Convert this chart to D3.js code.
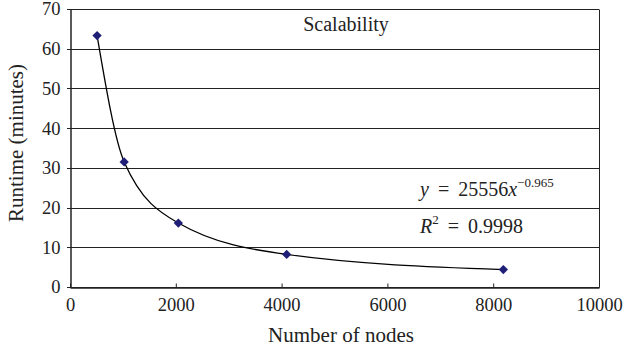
<!DOCTYPE html>
<html>
<head>
<meta charset="utf-8">
<script src="https://cdn.jsdelivr.net/npm/d3@7"></script>
<style>
  body { margin: 0; background: #fff; }
  text { font-family: "Liberation Serif", "DejaVu Serif", serif; fill: #222; }
</style>
</head>
<body>
<div id="chart"></div>
<script>
// data
const nodes = [512, 1024, 2048, 4096, 8192];
const runtime = [63.3, 31.5, 16.1, 8.2, 4.4];
const xTicks = [0, 2000, 4000, 6000, 8000, 10000];
const yTicks = [0, 10, 20, 30, 40, 50, 60, 70];
const chartTitle = "Scalability";
const eqText = { coef: "25556", exp: "\u22120.965", r2: "0.9998" };

const width = 625, height = 351;
const margin = { left: 70, right: 26, top: 9, bottom: 64 };

const svg = d3.select("#chart")
  .append("svg")
  .attr("width", width)
  .attr("height", height);

const xScale = d3.scaleLinear()
  .domain([0, 10000])
  .range([margin.left, width - margin.right]);

const yScale = d3.scaleLinear()
  .domain([0, 70])
  .range([height - margin.bottom, margin.top]);

// horizontal gridlines
svg.append("g")
  .selectAll("line")
  .data(yTicks)
  .enter()
  .append("line")
  .attr("x1", xScale(0) - 3)
  .attr("x2", xScale(10000))
  .attr("y1", d => Math.round(yScale(d)) + 0.5)
  .attr("y2", d => Math.round(yScale(d)) + 0.5)
  .attr("stroke", "#222")
  .attr("stroke-width", 1);

// right border
svg.append("line")
  .attr("x1", Math.round(xScale(10000)) + 0.5)
  .attr("x2", Math.round(xScale(10000)) + 0.5)
  .attr("y1", Math.round(yScale(70)) + 0.5)
  .attr("y2", Math.round(yScale(0)) + 0.5)
  .attr("stroke", "#222");

// x axis, ticks pointing up
const xAxis = d3.axisBottom(xScale)
  .tickValues(xTicks)
  .tickSizeInner(-4)
  .tickSizeOuter(0)
  .tickPadding(10)
  .tickFormat(d3.format("d"));

const gx = svg.append("g")
  .attr("transform", "translate(0," + (Math.round(yScale(0)) + 0.5) + ")")
  .call(xAxis);
gx.select(".domain").attr("stroke", "#222").attr("stroke-width", 1.5);
gx.selectAll(".tick line").attr("stroke", "#222");
gx.selectAll("text")
  .style("font-size", "18.5px")
  .style("font-family", "Liberation Serif")
  .attr("fill", "#222");

// y axis
const yAxis = d3.axisLeft(yScale)
  .tickValues(yTicks)
  .tickSizeInner(0)
  .tickSizeOuter(0)
  .tickPadding(10);

const gy = svg.append("g")
  .attr("transform", "translate(" + (Math.round(xScale(0)) + 0.5) + ",0)")
  .call(yAxis);
gy.select(".domain").attr("stroke", "#222").attr("stroke-width", 1.5);
gy.selectAll("text")
  .style("font-size", "18.5px")
  .style("font-family", "Liberation Serif")
  .attr("fill", "#222");

// axis titles
svg.append("text")
  .attr("x", 341)
  .attr("y", 342)
  .attr("text-anchor", "middle")
  .style("font-size", "21px")
  .text("Number of nodes");

svg.append("text")
  .attr("transform", "translate(23,143) rotate(-90)")
  .attr("text-anchor", "middle")
  .style("font-size", "21px")
  .text("Runtime (minutes)");

// chart title inside plot
svg.append("text")
  .attr("x", 346)
  .attr("y", 31)
  .attr("text-anchor", "middle")
  .style("font-size", "20px")
  .text(chartTitle);

// trend line drawn through the points
const points = nodes.map((n, i) => ({ x: n, y: runtime[i] }));
const line = d3.line()
  .x(d => xScale(d.x))
  .y(d => yScale(d.y))
  .curve(d3.curveMonotoneX);

svg.append("path")
  .datum(points)
  .attr("d", line)
  .attr("fill", "none")
  .attr("stroke", "#000")
  .attr("stroke-width", 1.3);

// diamond markers
svg.append("g")
  .selectAll("path")
  .data(points)
  .enter()
  .append("path")
  .attr("transform", d => "translate(" + xScale(d.x) + "," + yScale(d.y) + ")")
  .attr("d", d3.symbol().type(d3.symbolDiamond2).size(55))
  .attr("fill", "#1f1f78");

// equation
const eq = svg.append("text")
  .attr("x", 420)
  .attr("y", 196)
  .style("font-size", "20px");
eq.append("tspan").style("font-style", "italic").text("y");
eq.append("tspan").text(" \u2009=\u2009 " + eqText.coef);
eq.append("tspan").style("font-style", "italic").text("x");
eq.append("tspan").attr("dy", -9).style("font-size", "13px").text(eqText.exp);

const r2 = svg.append("text")
  .attr("x", 420)
  .attr("y", 233)
  .style("font-size", "20px");
r2.append("tspan").style("font-style", "italic").text("R");
r2.append("tspan").attr("dy", -9).style("font-size", "13px").text("2");
r2.append("tspan").attr("dy", 9).text(" \u2009=\u2009 " + eqText.r2);
</script>
</body>
</html>
